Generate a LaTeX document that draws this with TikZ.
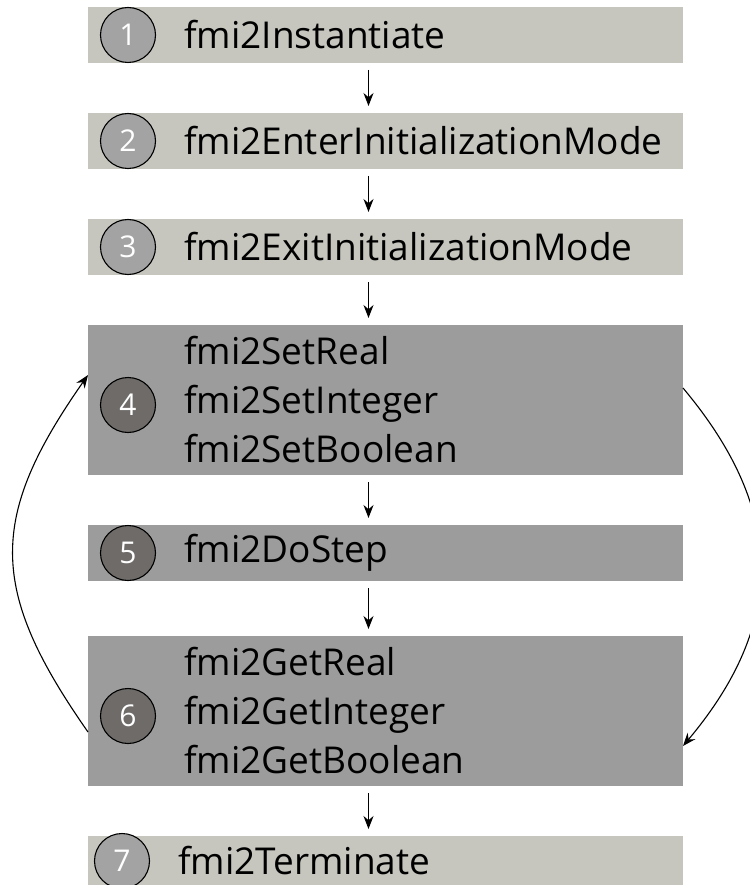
\documentclass[tikz,border=0pt]{standalone}
\usepackage{fontspec}
\setmainfont{Open Sans}
\usetikzlibrary{arrows.meta,positioning}
\definecolor{paleBox}{HTML}{C6C6BE}
\definecolor{darkBox}{HTML}{9C9C9C}
\definecolor{paleDot}{HTML}{A3A3A3}
\definecolor{darkDot}{HTML}{6E6B69}

\begin{document}
\begin{tikzpicture}[x = 1pt, y = 1pt, node distance = 50pt,
  callbox/.style = {minimum width = 595pt, minimum height = 56pt, inner sep = 0pt, outer sep = 0pt},
  loopbox/.style = {callbox, minimum height = 150pt},
  dot/.style = {circle, draw = black, line width = 1.1pt, minimum size = 55pt, inner sep = 0pt, text = white, font = \fontsize{30}{30}\selectfont},
  calltext/.style = {anchor = west, inner sep = 0pt, align = left, font = \fontsize{37}{49}\selectfont},
  flow/.style = {-{Stealth[length = 13pt, width = 10pt]}, line width = 1.1pt},
  down/.style = {flow, shorten <= 7pt, shorten >= 7pt}]
\useasboundingbox (0,0) rectangle (749,-885);
\node[callbox, fill = paleBox] (b1) at (385.5,-35) {};
\node[callbox, fill = paleBox, below = of b1] (b2) {};
\node[callbox, fill = paleBox, below = of b2] (b3) {};
\node[loopbox, fill = darkBox, below = of b3] (b4) {};
\node[callbox, fill = darkBox, below = of b4] (b5) {};
\node[loopbox, fill = darkBox, below = 55pt of b5] (b6) {};
\node[callbox, fill = paleBox, below = of b6] (b7) {};
\node[dot, fill = paleDot] (c1) at ([xshift = 40pt]b1.west) {1};
\node[dot, fill = paleDot] (c2) at ([xshift = 40pt]b2.west) {2};
\node[dot, fill = paleDot] (c3) at ([xshift = 40pt]b3.west) {3};
\node[dot, fill = darkDot] (c4) at ([xshift = 40pt, yshift = -5pt]b4.west) {4};
\node[dot, fill = darkDot] (c5) at ([xshift = 40pt]b5.west) {5};
\node[dot, fill = darkDot] (c6) at ([xshift = 40pt, yshift = -5pt]b6.west) {6};
\node[dot, fill = paleDot] (c7) at ([xshift = 34pt, yshift = 3pt]b7.west) {7};
\node[calltext] (t1) at ([xshift = 96pt]b1.west) {fmi2Instantiate};
\node[calltext] (t2) at ([xshift = 96pt]b2.west) {fmi2EnterInitializationMode};
\node[calltext] (t3) at ([xshift = 96pt]b3.west) {fmi2ExitInitializationMode};
\node[calltext] (t4) at ([xshift = 96pt]b4.west) {fmi2SetReal\\fmi2SetInteger\\fmi2SetBoolean};
\node[calltext] (t5) at ([xshift = 96pt]b5.west) {fmi2DoStep};
\node[calltext] (t6) at ([xshift = 96pt]b6.west) {fmi2GetReal\\fmi2GetInteger\\fmi2GetBoolean};
\node[calltext] (t7) at ([xshift = 90pt, yshift = 3pt]b7.west) {fmi2Terminate};
\foreach \a/\b in {b1/b2, b2/b3, b3/b4, b4/b5, b5/b6, b6/b7}
  \draw[down] ([xshift = -17pt]\a.south) -- ([xshift = -17pt]\b.north);
\draw[flow] ([yshift = -21pt]b6.west) to[out = 125, in = -125, looseness = 1.25] ([yshift = 25pt]b4.west);
\draw[flow] ([yshift = 12pt]b4.east) to[out = -50, in = 50, looseness = 1.15] ([yshift = -35pt]b6.east);
\end{tikzpicture}
\end{document}
